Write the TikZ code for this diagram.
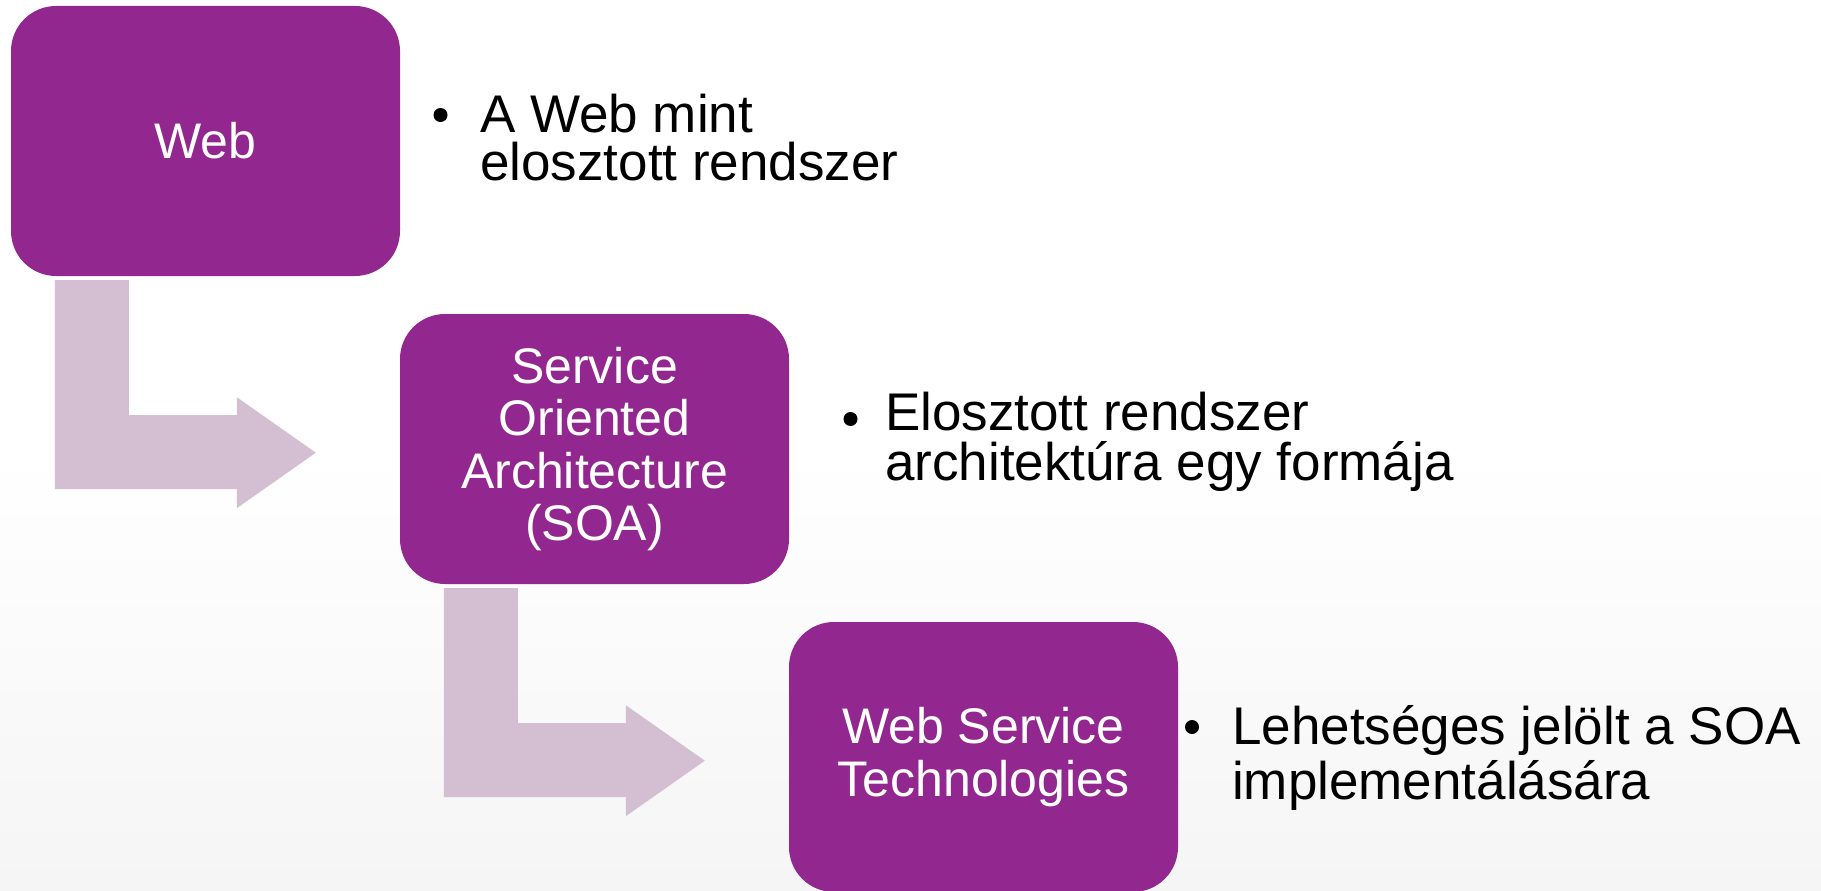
\documentclass[tikz,border=0pt]{standalone}
\usepackage{fontspec}
\setmainfont{Liberation Sans}
\definecolor{boxpurple}{HTML}{92278F}
\definecolor{arrowpink}{HTML}{D4BED2}
\definecolor{bgbottom}{HTML}{F5F5F5}
\tikzset{
  stepbox/.style={rectangle, rounded corners=45pt, fill=boxpurple, draw=none,
    minimum width=389pt, minimum height=270pt, inner sep=0pt, text=white,
    align=center, font=\fontsize{50}{52.5}\selectfont},
  bultext/.style={anchor=base west, inner sep=0pt, text=black,
    font=\fontsize{53}{50}\selectfont},
  buldot/.style={fill=black},
  bentarrow/.pic={
    \fill[arrowpink] (44,4) -- (118,4) -- (118,139) -- (226,139) -- (226,121)
      -- (305,176.5) -- (226,232) -- (226,213) -- (44,213) -- cycle;
  }
}
\newcommand{\twolines}[3]{\vtop{\baselineskip=#3pt\hbox{#1}\hbox{#2}}}
\begin{document}
\begin{tikzpicture}[x=1pt,y=-1pt]
\useasboundingbox (0,0) rectangle (1821,891);
\fill[white] (0,0) rectangle (1821,450);
\shade[top color=white, bottom color=bgbottom] (0,449) rectangle (1821,891);

\node[stepbox] (web) at (205.5,141) {Web};
\node[stepbox] (soa) at (594.5,449) {Service\\Oriented\\Architecture\\(SOA)};
\node[stepbox] (wst) at (983.5,757) {Web Service\\Technologies};

\pic at (web.south west) {bentarrow};
\pic at (soa.south west) {bentarrow};

\fill[buldot] (440.5,115) circle[radius=7pt];
\node[bultext] (t1) at (480,132) {\twolines{A Web mint}{elosztott rendszer}{48}};
\fill[buldot] (850.5,419) circle[radius=7pt];
\node[bultext] (t2) at (885,430) {\twolines{Elosztott rendszer}{architektúra egy formája}{50}};
\fill[buldot] (1192,727) circle[radius=7pt];
\node[bultext] (t3) at (1232,744) {\twolines{Lehetséges jelölt a SOA}{implementálására}{55}};
\end{tikzpicture}
\end{document}
